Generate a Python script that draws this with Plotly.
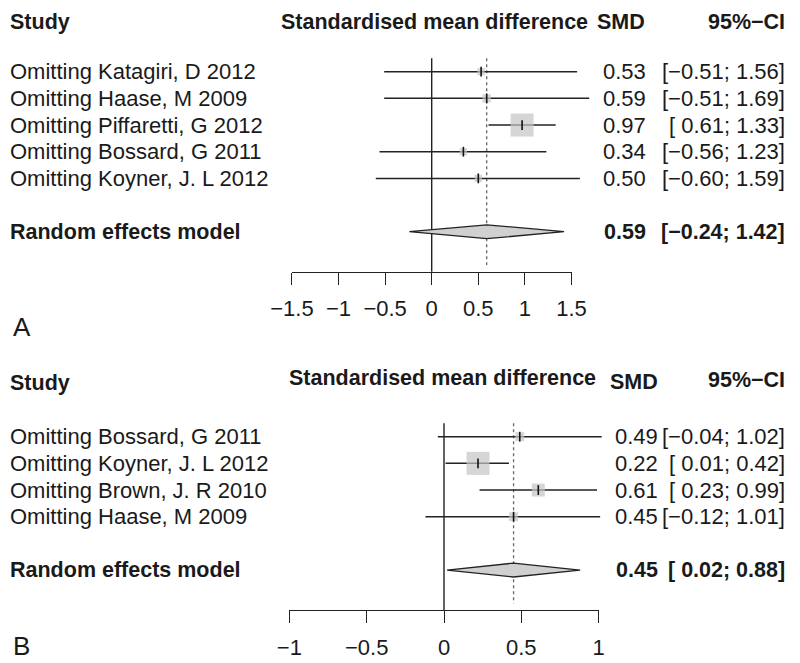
import math
import plotly.graph_objects as go

# ---------------- data ----------------
studies_a = ["Omitting Katagiri, D 2012", "Omitting Haase, M 2009",
             "Omitting Piffaretti, G 2012", "Omitting Bossard, G 2011",
             "Omitting Koyner, J. L 2012"]
smd_a = [0.53, 0.59, 0.97, 0.34, 0.50]
lower_a = [-0.51, -0.51, 0.61, -0.56, -0.60]
upper_a = [1.56, 1.69, 1.33, 1.23, 1.59]
weight_a = [10, 13, 100, 10, 10]          # relative box weights (estimated)
summary_a = [0.59, -0.24, 1.42]           # estimate, lower, upper
ticks_a = [-1.5, -1, -0.5, 0, 0.5, 1, 1.5]

studies_b = ["Omitting Bossard, G 2011", "Omitting Koyner, J. L 2012",
             "Omitting Brown, J. R 2010", "Omitting Haase, M 2009"]
smd_b = [0.49, 0.22, 0.61, 0.45]
lower_b = [-0.04, 0.01, 0.23, -0.12]
upper_b = [1.02, 0.42, 0.99, 1.01]
weight_b = [15, 100, 32, 15]
summary_b = [0.45, 0.02, 0.88]
ticks_b = [-1, -0.5, 0, 0.5, 1]

summary_label = "Random effects model"
headers = ["Study", "Standardised mean difference", "SMD", "95%\u2212CI"]
panel_letters = ["A", "B"]

# ---------------- layout constants ----------------
OFF = 8                      # page body margin of the html page
W, H = 800 - OFF, 663 - OFF  # figure size so that it fits the window
FONT = "Liberation Sans, Arial, Helvetica, sans-serif"
TXT = "#1a1a1a"
FS = 22
FSB = 21.5
ROW_H = 26.67
MIN_TOP = 14                 # keep header text inside the figure

panels = [
    dict(studies=studies_a, smd=smd_a, lo=lower_a, hi=upper_a, w=weight_a,
         summ=summary_a, ticks=ticks_a, letter=panel_letters[0],
         x0=431.7, ppu=93.2, row0=71.7, ydom=(0, 340),
         xa="x", ya="y", xt="x3", smd_r=648, smd_hr=647, ci_r=787,
         smd_title_r=590, letter_y=327),
    dict(studies=studies_b, smd=smd_b, lo=lower_b, hi=upper_b, w=weight_b,
         summ=summary_b, ticks=ticks_b, letter=panel_letters[1],
         x0=444.0, ppu=154.6, row0=436.7, ydom=(340, 663),
         xa="x2", ya="y2", xt="x4", smd_r=660, smd_hr=660, ci_r=787,
         smd_title_r=598, letter_y=646),
]


def px(v):
    """page pixel -> figure pixel"""
    return v - OFF


def num(v):
    s = f"{abs(v):.2f}"
    return ("\u2212" + s) if v < 0 else s


def ci_text(lo, hi, pad):
    l = num(lo)
    if pad and lo >= 0:
        l = " " + l
    return f"[{l}; {num(hi)}]"


fig = go.Figure()
annotations = []
layout_axes = {}


def ax_name(a):
    return "xaxis" + a[1:] if a.startswith("x") else "yaxis" + a[1:]


for p in panels:
    n = len(p["studies"])
    rows = list(range(n))
    re_row = n + 1
    axis_row = n + 2.5
    head_row = -2
    pad = any(v < 0 for v in p["lo"] + [p["summ"][1]])
    xa, ya, xt = p["xa"], p["ya"], p["xt"]
    x0 = px(p["x0"])
    r0 = px(p["row0"])

    ytop, ybot = max(px(p["ydom"][0]), 0), min(px(p["ydom"][1]), H)
    layout_axes[ax_name(xa)] = dict(
        domain=[0, 1], range=[-x0 / p["ppu"], (W - x0) / p["ppu"]],
        visible=False, anchor=ya, fixedrange=True)
    layout_axes[ax_name(ya)] = dict(
        domain=[1 - ybot / H, 1 - ytop / H],
        range=[(ybot - r0) / ROW_H, (ytop - r0) / ROW_H],
        visible=False, anchor=xa, fixedrange=True)

    # visible forest axis
    t0, t1 = min(p["ticks"]), max(p["ticks"])
    axis_px = r0 + axis_row * ROW_H
    layout_axes[ax_name(xt)] = dict(
        domain=[(x0 + t0 * p["ppu"]) / W, (x0 + t1 * p["ppu"]) / W],
        range=[t0, t1], anchor="free", position=1 - axis_px / H,
        showline=True, linecolor="#222", linewidth=1.4,
        ticks="outside", ticklen=12, tickwidth=1.4, tickcolor="#222",
        tickvals=p["ticks"], showgrid=False, zeroline=False,
        tickfont=dict(family=FONT, size=FS, color=TXT),
        ticklabelstandoff=5, fixedrange=True, automargin=False)
    fig.add_trace(go.Scatter(x=[t0, t1], y=[None, None], xaxis=xt, yaxis=ya,
                             mode="markers", showlegend=False, hoverinfo="skip"))

    # no-effect line and dotted summary line
    fig.add_trace(go.Scatter(x=[0, 0], y=[-0.5, axis_row], mode="lines",
                             line=dict(color="#222", width=1.4),
                             xaxis=xa, yaxis=ya, showlegend=False))
    fig.add_trace(go.Scatter(x=[p["summ"][0]] * 2, y=[-0.5, axis_row - 0.25],
                             mode="lines",
                             line=dict(color="#666", width=1.3, dash="dot"),
                             xaxis=xa, yaxis=ya, showlegend=False))

    # confidence intervals
    for i in rows:
        fig.add_trace(go.Scatter(x=[p["lo"][i], p["hi"][i]], y=[i, i],
                                 mode="lines",
                                 line=dict(color="#222", width=1.5),
                                 xaxis=xa, yaxis=ya, showlegend=False))
    # weight boxes
    wmax = max(p["w"])
    sizes = [23 * math.sqrt(wv / wmax) for wv in p["w"]]
    fig.add_trace(go.Scatter(x=p["smd"], y=rows, mode="markers",
                             marker=dict(symbol="square", size=sizes,
                                         color="#c4c4c4", line=dict(width=0)),
                             xaxis=xa, yaxis=ya, showlegend=False))
    fig.add_trace(go.Scatter(x=p["smd"], y=rows, mode="markers",
                             marker=dict(symbol="line-ns", size=7,
                                         line=dict(color="#111", width=1.6)),
                             xaxis=xa, yaxis=ya, showlegend=False))

    # summary diamond
    est, slo, shi = p["summ"]
    h = 0.26
    fig.add_trace(go.Scatter(x=[slo, est, shi, est, slo],
                             y=[re_row, re_row - h, re_row, re_row + h, re_row],
                             mode="lines", fill="toself", fillcolor="#d0d0d0",
                             line=dict(color="#222", width=1.3),
                             xaxis=xa, yaxis=ya, showlegend=False))

    def ann(text, xpage, row, anchor, bold=False, yshift=0):
        annotations.append(dict(
            text=f"<b>{text}</b>" if bold else text,
            x=max(px(xpage), 0) / W, xref="paper", y=row, yref=ya,
            xanchor=anchor, yanchor="middle", showarrow=False, yshift=yshift,
            font=dict(family=FONT, size=FSB if bold else FS, color=TXT)))

    # header: keep inside the figure's top edge
    head_px = r0 + head_row * ROW_H

    def hshift(s):
        return min(s, head_px - MIN_TOP)

    ann(headers[0], 5, head_row, "left", bold=True, yshift=hshift(0))
    ann(headers[1], p["smd_title_r"], head_row, "right", bold=True,
        yshift=hshift(5))
    ann(headers[2], p["smd_hr"], head_row, "right", bold=True,
        yshift=hshift(1))
    ann(headers[3], p["ci_r"], head_row, "right", bold=True, yshift=hshift(3))
    for i in rows:
        ann(p["studies"][i], 5, i, "left")
        ann(num(p["smd"][i]), p["smd_r"], i, "right")
        ann(ci_text(p["lo"][i], p["hi"][i], pad), p["ci_r"], i, "right")
    ann(summary_label, 5, re_row, "left", bold=True)
    ann(num(est), p["smd_r"], re_row, "right", bold=True)
    ann(ci_text(slo, shi, pad), p["ci_r"], re_row, "right", bold=True)

    annotations.append(dict(
        text=p["letter"], x=px(11) / W, xref="paper",
        y=1 - px(p["letter_y"]) / H, yref="paper", xanchor="left",
        yanchor="middle", showarrow=False,
        font=dict(family=FONT, size=26, color=TXT)))

fig.update_layout(
    width=W, height=H,
    margin=dict(l=0, r=0, t=0, b=0, pad=0, autoexpand=False),
    paper_bgcolor="white", plot_bgcolor="rgba(0,0,0,0)",
    showlegend=False, annotations=annotations, **layout_axes)

fig.write_html("out.html")
